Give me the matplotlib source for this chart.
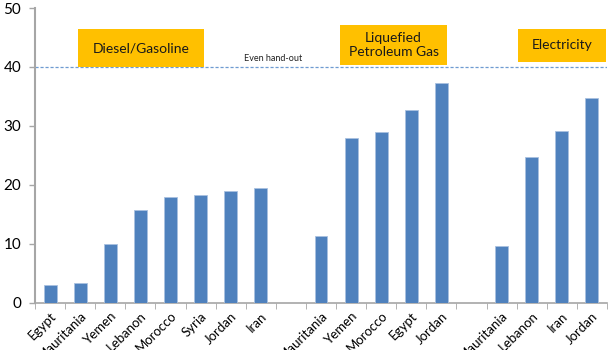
import numpy as np
import matplotlib
matplotlib.use('Agg')
import matplotlib.pyplot as plt
from matplotlib.patches import Rectangle

plt.rcParams['font.family'] = ['Lato', 'DejaVu Sans']

# data
diesel_countries = ['Egypt', 'Mauritania', 'Yemen', 'Lebanon', 'Morocco', 'Syria', 'Jordan', 'Iran']
diesel_values = [3.0, 3.4, 10.0, 15.7, 17.9, 18.2, 18.9, 19.4]
lpg_countries = ['Mauritania', 'Yemen', 'Morocco', 'Egypt', 'Jordan']
lpg_values = [11.3, 27.9, 29.0, 32.7, 37.3]
elec_countries = ['Mauritania', 'Lebanon', 'Iran', 'Jordan']
elec_values = [9.6, 24.8, 29.1, 34.7]
even_handout = 40

# one slot per bar, empty slot between groups
labels = diesel_countries + [''] + lpg_countries + [''] + elec_countries
values = diesel_values + [np.nan] + lpg_values + [np.nan] + elec_values
x = np.arange(len(labels))

bar_color = '#4F81BD'
box_color = '#FFC000'
axis_color = '#A6A6A6'

fig = plt.figure(figsize=(6.1, 3.5), dpi=100)
ax = fig.add_axes([0.0574, 0.135, 0.9376, 0.842])

ax.bar(x, values, width=0.43, color=bar_color, edgecolor='#A9C1E0', linewidth=0.6, zorder=3)

ax.axhline(even_handout, color='#6E9BD1', linestyle=(0, (2.5, 1.5)), linewidth=0.9, zorder=2)
ax.text(7.4, even_handout + 0.6, 'Even hand-out', fontsize=6.5, ha='center', va='bottom', color='#222222')

# category boxes
boxes = [
    (0.93, 40.0, 5.11, 46.4, 'Diesel/Gasoline'),
    (9.63, 40.3, 13.19, 47.1, 'Liquefied\nPetroleum Gas'),
    (15.55, 40.9, 18.47, 46.4, 'Electricity'),
]
for x0, y0, x1, y1, txt in boxes:
    ax.add_patch(Rectangle((x0, y0), x1 - x0, y1 - y0, facecolor=box_color, edgecolor='none', zorder=4))
    ax.text((x0 + x1) / 2, (y0 + y1) / 2, txt, ha='center', va='center', fontsize=10,
            color='#1a1a1a', zorder=5, linespacing=1.15)

ax.set_xlim(-0.5, len(labels) - 0.5)
ax.set_ylim(0, 50)
ax.set_yticks([0, 10, 20, 30, 40, 50])
ax.tick_params(axis='y', labelsize=11, length=4, color=axis_color, width=1, direction='out', pad=6)

ax.set_xticks(x)
ax.set_xticklabels(labels, rotation=45, ha='right', rotation_mode='anchor', fontsize=9.5)
ax.tick_params(axis='x', length=0, pad=5)
ax.set_xticks(np.arange(-0.5, len(labels)), minor=True)
ax.tick_params(axis='x', which='minor', length=4, color=axis_color, direction='out')

for side in ['top', 'right']:
    ax.spines[side].set_visible(False)
ax.spines['left'].set_color(axis_color)
ax.spines['left'].set_linewidth(1.5)
ax.spines['bottom'].set_color(axis_color)
ax.spines['bottom'].set_linewidth(1.2)

fig.savefig('out.png', dpi=100)
